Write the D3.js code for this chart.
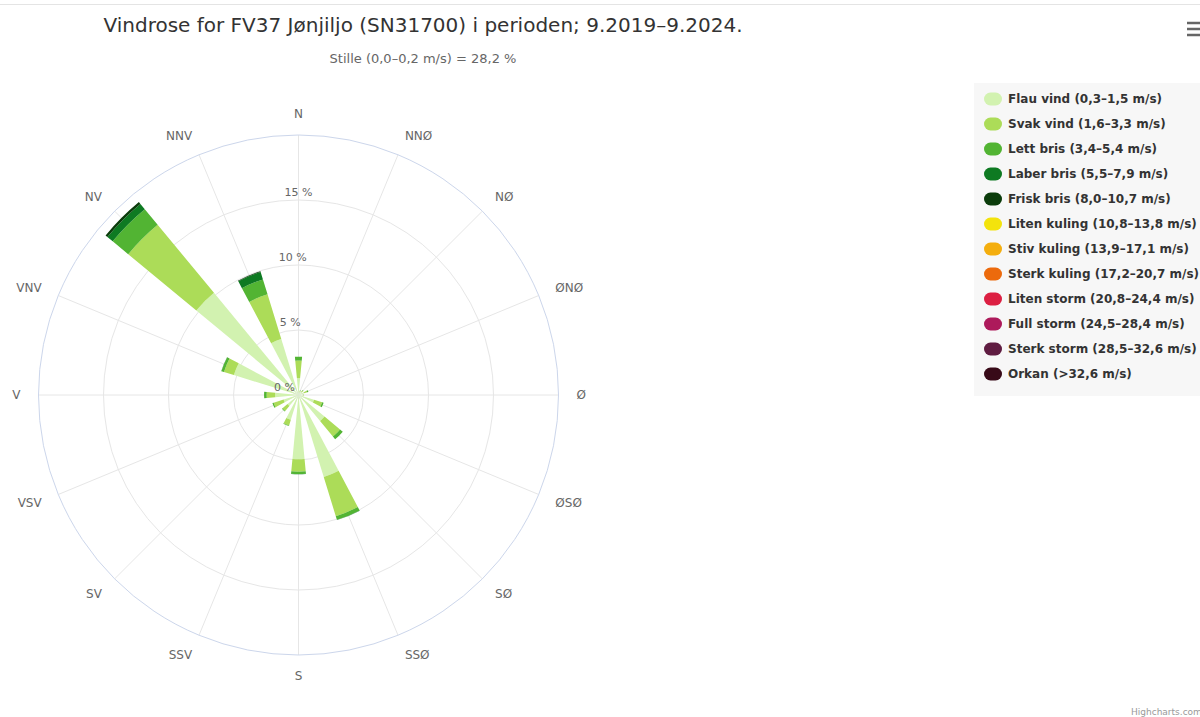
<!DOCTYPE html>
<html>
<head>
<meta charset="utf-8">
<script src="https://cdn.jsdelivr.net/npm/d3@7"></script>
<style>
  body { margin: 0; background: #fff; }
  svg { display: block; font-family: "DejaVu Sans", sans-serif; }
</style>
</head>
<body>
<div id="chart"></div>
<script>
// wind rose data (percent of time)
var directions = ['N', 'NNØ', 'NØ', 'ØNØ', 'Ø', 'ØSØ', 'SØ', 'SSØ', 'S', 'SSV', 'SV', 'VSV', 'V', 'VNV', 'NV', 'NNV'];

var seriesNames = ['Flau vind (0,3–1,5 m/s)', 'Svak vind (1,6–3,3 m/s)', 'Lett bris (3,4–5,4 m/s)',
  'Laber bris (5,5–7,9 m/s)', 'Frisk bris (8,0–10,7 m/s)', 'Liten kuling (10,8–13,8 m/s)',
  'Stiv kuling (13,9–17,1 m/s)', 'Sterk kuling (17,2–20,7 m/s)', 'Liten storm (20,8–24,4 m/s)',
  'Full storm (24,5–28,4 m/s)', 'Sterk storm (28,5–32,6 m/s)', 'Orkan (>32,6 m/s)'];

var seriesColors = ['#d2f2b0', '#acdc58', '#52b433', '#0e7a22', '#0b3c0b', '#f3e30c',
  '#f4ae0e', '#ec6a0c', '#dc1f42', '#ad1a5b', '#5f1c41', '#380a18'];

var flauVind   = [1.3, 0.25, 0.3, 0.45, 0.3, 1.25, 2.6, 6.6, 4.95, 2.0, 1.1, 1.2, 1.8, 5.2, 10.2, 4.5];
var svakVind   = [1.35, 0.1, 0.15, 0.25, 0.1, 0.65, 1.55, 3.15, 0.95, 0.45, 0.5, 0.8, 0.65, 0.8, 6.8, 3.6];
var lettBris   = [0.3, 0.03, 0.05, 0.1, 0.02, 0.12, 0.27, 0.3, 0.18, 0.05, 0.05, 0.1, 0.2, 0.2, 1.55, 1.2];
var laberBris  = [0, 0, 0, 0, 0, 0, 0, 0.02, 0.02, 0, 0, 0, 0, 0.02, 0.53, 0.6];
var friskBris  = [0, 0, 0, 0, 0, 0, 0, 0, 0, 0, 0, 0, 0, 0, 0.18, 0.05];
var litenKuling = [0, 0, 0, 0, 0, 0, 0, 0, 0, 0, 0, 0, 0, 0, 0, 0];
var stivKuling  = [0, 0, 0, 0, 0, 0, 0, 0, 0, 0, 0, 0, 0, 0, 0, 0];
var sterkKuling = [0, 0, 0, 0, 0, 0, 0, 0, 0, 0, 0, 0, 0, 0, 0, 0];
var litenStorm  = [0, 0, 0, 0, 0, 0, 0, 0, 0, 0, 0, 0, 0, 0, 0, 0];
var fullStorm   = [0, 0, 0, 0, 0, 0, 0, 0, 0, 0, 0, 0, 0, 0, 0, 0];
var sterkStorm  = [0, 0, 0, 0, 0, 0, 0, 0, 0, 0, 0, 0, 0, 0, 0, 0];
var orkan       = [0, 0, 0, 0, 0, 0, 0, 0, 0, 0, 0, 0, 0, 0, 0, 0];

var radialTicks = [0, 5, 10, 15];
var radialMax = 20;

var seriesValues = [flauVind, svakVind, lettBris, laberBris, friskBris, litenKuling,
  stivKuling, sterkKuling, litenStorm, fullStorm, sterkStorm, orkan];

var width = 1200, height = 717;
var cx = 298.5, cy = 395, outerR = 260;

var svg = d3.select("#chart").append("svg")
  .attr("width", width)
  .attr("height", height);

// thin top border
svg.append("line")
  .attr("x1", 0).attr("x2", width)
  .attr("y1", 4.5).attr("y2", 4.5)
  .style("stroke", "#e4e4e4");

// title + subtitle
svg.append("text")
  .attr("x", 423).attr("y", 32)
  .attr("text-anchor", "middle")
  .style("font-size", "20px")
  .style("fill", "#333")
  .text("Vindrose for FV37 Jønjiljo (SN31700) i perioden; 9.2019–9.2024.");

svg.append("text")
  .attr("x", 423).attr("y", 63)
  .attr("text-anchor", "middle")
  .style("font-size", "13px")
  .style("fill", "#666")
  .text("Stille (0,0–0,2 m/s) = 28,2 %");

// scales
var angle = d3.scaleBand()
  .domain(directions)
  .range([0, 2 * Math.PI])
  .align(0);
var step = angle.step();
function dirAngle(d) { return angle(d); } // pointPlacement 'on'

var r = d3.scaleLinear()
  .domain([0, radialMax])
  .range([0, outerR]);

var g = svg.append("g").attr("transform", "translate(" + cx + "," + cy + ")");

// radial gridlines
g.selectAll(".grid-circle")
  .data(radialTicks.slice(1))
  .enter().append("circle")
  .attr("r", function(d) { return r(d); })
  .style("fill", "none")
  .style("stroke", "#e6e6e6");

// spokes
g.selectAll(".spoke")
  .data(directions)
  .enter().append("line")
  .attr("x1", 0).attr("y1", 0)
  .attr("x2", function(d) { return outerR * Math.sin(dirAngle(d)); })
  .attr("y2", function(d) { return -outerR * Math.cos(dirAngle(d)); })
  .style("stroke", "#e6e6e6");

// outer axis line
g.append("circle")
  .attr("r", r(radialMax))
  .style("fill", "none")
  .style("stroke", "#ccd6eb");

// stacked bars
var stackData = directions.map(function(d, i) {
  var row = { dir: d };
  seriesValues.forEach(function(s, j) { row[j] = s[i]; });
  return row;
});
var stack = d3.stack().keys(d3.range(seriesValues.length));
var layers = stack(stackData);

var halfW = step * 0.48 / 2;
var arc = d3.arc();

layers.forEach(function(layer, j) {
  g.append("g").selectAll("path")
    .data(layer.filter(function(p) { return p[1] - p[0] > 0; }))
    .enter().append("path")
    .attr("d", function(p) {
      var a = dirAngle(p.data.dir);
      return arc({
        innerRadius: r(p[0]),
        outerRadius: r(p[1]),
        startAngle: a - halfW,
        endAngle: a + halfW
      });
    })
    .style("fill", seriesColors[j]);
});

// direction labels, aligned away from the circle like highcharts
g.selectAll(".dir-label")
  .data(directions)
  .enter().append("text")
  .attr("x", function(d) { return 278 * Math.sin(dirAngle(d)); })
  .attr("y", function(d) { return -281 * Math.cos(dirAngle(d)); })
  .attr("text-anchor", function(d) {
    var s = Math.sin(dirAngle(d));
    return s > 0.1 ? "start" : (s < -0.1 ? "end" : "middle");
  })
  .attr("dy", "0.35em")
  .style("font-size", "12px")
  .style("fill", "#666")
  .text(function(d) { return d; });

// radial labels
g.selectAll(".r-label")
  .data(radialTicks)
  .enter().append("text")
  .attr("x", function(d, i) { return -3.5 + 5.8 * i; })
  .attr("y", function(d) { return -r(d) - 4.5; })
  .attr("text-anchor", "end")
  .style("font-size", "11px")
  .style("fill", "#666")
  .text(function(d) { return d + " %"; });

// legend
var legend = svg.append("g");
legend.append("rect")
  .attr("x", 974).attr("y", 83)
  .attr("width", 240).attr("height", 313)
  .style("fill", "#f7f7f7");

var item = legend.selectAll(".item")
  .data(seriesNames)
  .enter().append("g")
  .attr("transform", function(d, i) { return "translate(984," + (99 + i * 25) + ")"; });

item.append("rect")
  .attr("x", 0).attr("y", -6.5)
  .attr("width", 18).attr("height", 13)
  .attr("rx", 6.5).attr("ry", 6.5)
  .style("fill", function(d, i) { return seriesColors[i]; });

item.append("text")
  .attr("x", 24).attr("dy", "0.35em")
  .style("font-size", "12px")
  .style("font-weight", "bold")
  .style("fill", "#333")
  .text(function(d) { return d; });

// menu icon
svg.selectAll(".menu")
  .data([23, 29, 35])
  .enter().append("line")
  .attr("x1", 1187).attr("x2", 1200)
  .attr("y1", function(d) { return d; }).attr("y2", function(d) { return d; })
  .style("stroke", "#666")
  .style("stroke-width", 2.5);

// credits (clipped at the right edge, as in the original)
svg.append("text")
  .attr("x", 1131).attr("y", 715)
  .style("font-size", "9px")
  .style("fill", "#999")
  .text("Highcharts.com");
</script>
</body>
</html>
